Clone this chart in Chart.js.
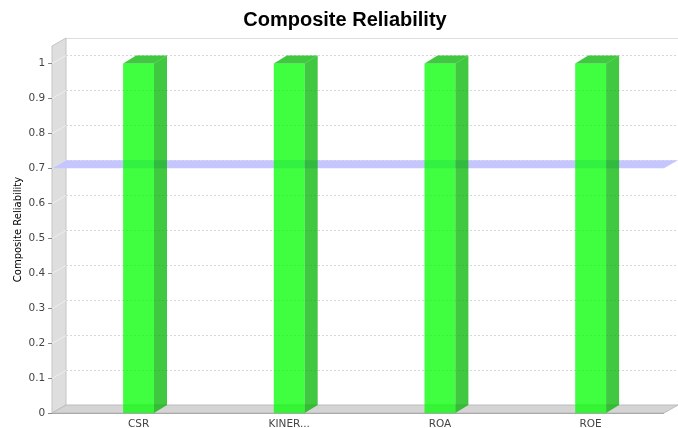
<!DOCTYPE html>
<html>
<head>
<meta charset="utf-8">
<script src="https://cdn.jsdelivr.net/npm/chart.js@4"></script>
<style>
  html, body { margin: 0; padding: 0; background: #fff; }
  #wrap { width: 678px; height: 428px; }
</style>
</head>
<body>
<div id="wrap"><canvas id="chartCR"></canvas></div>
<script>
const categories = ['CSR', 'KINER...', 'ROA', 'ROE'];
const reliability = [1, 1, 1, 1];
const thresholdValue = 0.7;
const axisMin = 0;
const axisMax = 1.05;
const axisStep = 0.1;

// depth of the fake 3d look
const WALL_DX = 14, WALL_DY = 8;
const BAR_DX = 13, BAR_DY = 8;

const plot3d = {
    id: 'plot3d',
    beforeDatasetsDraw(chart) {
        const { ctx, chartArea, scales } = chart;
        const y = scales.y;
        const left = chartArea.left - 11.2;
        const right = chart.width - WALL_DX;
        const top = chartArea.top;
        const bottom = chartArea.bottom;

        ctx.save();
        // back wall outline
        ctx.strokeStyle = '#dddddd';
        ctx.lineWidth = 1;
        ctx.beginPath();
        ctx.moveTo(left + WALL_DX, top - WALL_DY + 0.5);
        ctx.lineTo(chart.width, top - WALL_DY + 0.5);
        ctx.stroke();

        // left wall
        ctx.fillStyle = '#dedede';
        ctx.beginPath();
        ctx.moveTo(left, bottom);
        ctx.lineTo(left, top);
        ctx.lineTo(left + WALL_DX, top - WALL_DY);
        ctx.lineTo(left + WALL_DX, bottom - WALL_DY);
        ctx.closePath();
        ctx.fill();
        ctx.strokeStyle = '#c4c4c4';
        ctx.stroke();

        // floor
        ctx.fillStyle = '#d4d4d4';
        ctx.beginPath();
        ctx.moveTo(left, bottom);
        ctx.lineTo(left + WALL_DX, bottom - WALL_DY);
        ctx.lineTo(chart.width, bottom - WALL_DY);
        ctx.lineTo(right, bottom);
        ctx.closePath();
        ctx.fill();
        ctx.strokeStyle = '#bcbcbc';
        ctx.stroke();
        ctx.strokeStyle = '#a8a8a8';
        ctx.beginPath();
        ctx.moveTo(left, bottom + 0.5);
        ctx.lineTo(right, bottom + 0.5);
        ctx.stroke();

        // grid lines on back wall + left wall
        y.ticks.forEach(t => {
            if (t.value === 0) return;
            const py = Math.round(y.getPixelForValue(t.value)) + 0.5;
            ctx.setLineDash([2, 2]);
            ctx.strokeStyle = '#d6d6d6';
            ctx.beginPath();
            ctx.moveTo(left + WALL_DX, py - WALL_DY);
            ctx.lineTo(chart.width, py - WALL_DY);
            ctx.stroke();
            ctx.setLineDash([]);
            ctx.strokeStyle = '#eeeeee';
            ctx.beginPath();
            ctx.moveTo(left, py);
            ctx.lineTo(left + WALL_DX, py - WALL_DY);
            ctx.stroke();
        });

        // tick marks
        ctx.strokeStyle = '#888888';
        y.ticks.forEach(t => {
            const py = Math.round(y.getPixelForValue(t.value)) + 0.5;
            ctx.beginPath();
            ctx.moveTo(left - 4, py);
            ctx.lineTo(left, py);
            ctx.stroke();
        });

        // threshold band
        const ty = y.getPixelForValue(thresholdValue);
        ctx.fillStyle = '#c6c6ff';
        ctx.beginPath();
        ctx.moveTo(left, ty);
        ctx.lineTo(left + WALL_DX, ty - WALL_DY);
        ctx.lineTo(chart.width, ty - WALL_DY);
        ctx.lineTo(right, ty);
        ctx.closePath();
        ctx.fill();
        ctx.restore();
    },
    afterDatasetsDraw(chart) {
        const { ctx } = chart;
        const meta = chart.getDatasetMeta(0);
        ctx.save();
        ctx.fillStyle = 'rgba(0,181,0,0.75)';
        meta.data.forEach(bar => {
            const l = bar.x - bar.width / 2;
            const r = bar.x + bar.width / 2;
            // side
            ctx.beginPath();
            ctx.moveTo(r, bar.y);
            ctx.lineTo(r + BAR_DX, bar.y - BAR_DY);
            ctx.lineTo(r + BAR_DX, bar.base - BAR_DY);
            ctx.lineTo(r, bar.base);
            ctx.closePath();
            ctx.fill();
            // top
            ctx.beginPath();
            ctx.moveTo(l, bar.y);
            ctx.lineTo(l + BAR_DX, bar.y - BAR_DY);
            ctx.lineTo(r + BAR_DX, bar.y - BAR_DY);
            ctx.lineTo(r, bar.y);
            ctx.closePath();
            ctx.fill();
        });
        ctx.restore();
    }
};

new Chart(document.getElementById('chartCR'), {
    type: 'bar',
    data: {
        labels: categories,
        datasets: [{
            label: 'Composite Reliability',
            data: reliability,
            backgroundColor: 'rgba(0,255,0,0.75)',
            borderWidth: 0,
            categoryPercentage: 1,
            barPercentage: 0.205
        }]
    },
    options: {
        responsive: true,
        maintainAspectRatio: false,
        animation: false,
        layout: { padding: { left: 24, right: 12, top: 0, bottom: 0 } },
        plugins: {
            legend: { display: false },
            tooltip: { enabled: false },
            title: {
                display: true,
                text: 'Composite Reliability',
                color: '#000',
                font: { family: 'Liberation Sans', size: 20, weight: 'bold' },
                padding: { top: 8.5, bottom: 13.5 }
            }
        },
        scales: {
            x: {
                grid: { display: false, drawTicks: false },
                border: { display: false },
                ticks: { color: '#444', font: { family: 'DejaVu Sans', size: 10.5 }, padding: 5 },
                afterFit: s => { s.height = 15; }
            },
            y: {
                min: axisMin,
                max: axisMax,
                grid: { display: false, drawTicks: false },
                border: { display: false },
                ticks: {
                    stepSize: axisStep,
                    includeBounds: false,
                    color: '#444',
                    font: { family: 'DejaVu Sans', size: 10.5 },
                    padding: 18,
                    callback: v => String(+v.toFixed(2))
                },
                title: {
                    display: true,
                    text: 'Composite Reliability',
                    color: '#000',
                    font: { family: 'DejaVu Sans', size: 10 },
                    padding: { top: -12, bottom: 0 }
                },
                afterFit: s => {
                    s.width = 39.2;
                    s.paddingTop = 0;
                    s.paddingBottom = 0;
                }
            }
        }
    },
    plugins: [plot3d]
});
</script>
</body>
</html>
